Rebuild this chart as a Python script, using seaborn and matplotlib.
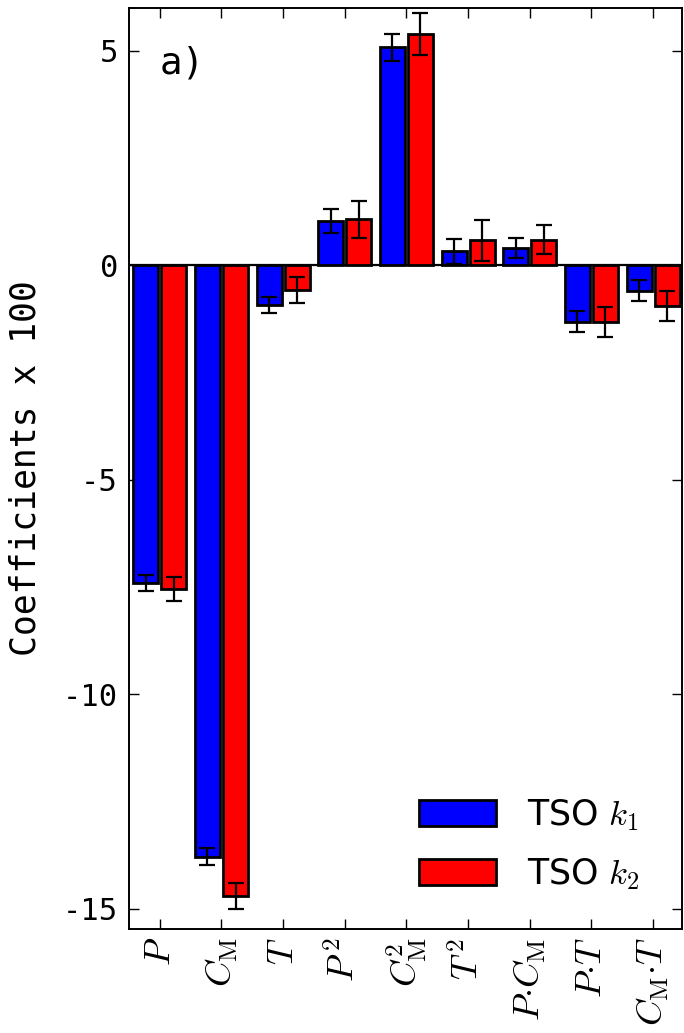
import matplotlib
matplotlib.use("Agg")
import matplotlib.pyplot as plt
import seaborn as sns
import pandas as pd

# Regression terms (mathtext labels) and coefficients (x 100) with their errors
terms = [r"$P$", r"$C_{\rm M}$", r"$T$", r"$P^{\,2}$", r"$C_{\rm M}^{2}$",
         r"$T^{\,2}$", r"$P{\cdot}C_{\rm M}$", r"$P{\cdot}T$", r"$C_{\rm M}{\cdot}T$"]
series_names = [r"TSO $k_1$", r"TSO $k_2$"]
k1_values = [-7.41, -13.79, -0.92, 1.03, 5.08, 0.33, 0.40, -1.31, -0.59]
k1_errors = [0.19, 0.20, 0.19, 0.28, 0.32, 0.29, 0.23, 0.25, 0.24]
k2_values = [-7.55, -14.70, -0.58, 1.07, 5.39, 0.58, 0.60, -1.32, -0.94]
k2_errors = [0.28, 0.30, 0.30, 0.43, 0.49, 0.47, 0.33, 0.35, 0.35]
y_ticks = [5, 0, -5, -10, -15]
bar_colors = ["#0000ff", "#ff0000"]

sns.set_style("ticks")
plt.rcParams.update({
    "font.family": ["DejaVu Sans Mono", "DejaVu Sans"],
    "mathtext.fontset": "cm",
    "axes.unicode_minus": False,
    "axes.linewidth": 1.4,
    "axes.edgecolor": "black",
    "axes.labelcolor": "black",
    "text.color": "black",
    "xtick.direction": "in",
    "ytick.direction": "in",
    "xtick.major.size": 7.5,
    "ytick.major.size": 7.5,
    "xtick.major.width": 1.0,
    "ytick.major.width": 1.0,
    "xtick.top": True,
    "ytick.right": True,
    "xtick.color": "black",
    "ytick.color": "black",
    "xtick.labelcolor": "black",
    "ytick.labelcolor": "black",
})

df = pd.DataFrame({
    "term": terms * 2,
    "value": k1_values + k2_values,
    "series": [series_names[0]] * len(terms) + [series_names[1]] * len(terms),
})

fig = plt.figure(figsize=(6.84, 10.33), dpi=100)
ax = fig.add_axes([0.1886, 0.1007, 0.8085, 0.8916])

sns.barplot(data=df, x="term", y="value", hue="series", order=terms,
            hue_order=series_names, palette=bar_colors, width=0.91, gap=0.108,
            edgecolor="black", linewidth=2.0, errorbar=None, saturation=1,
            ax=ax, zorder=2)

# error bars placed at the centre of each drawn bar
for container, vals, errs in zip(ax.containers, [k1_values, k2_values],
                                 [k1_errors, k2_errors]):
    xs = [p.get_x() + p.get_width() / 2 for p in container]
    ax.errorbar(xs, vals, yerr=errs, fmt="none", ecolor="black",
                elinewidth=1.6, capsize=5.5, capthick=1.6, zorder=3)

ax.axhline(0, color="black", linewidth=1.6, zorder=1)

ax.set_xlim(-0.5, 8.47)
ax.set_ylim(-15.47, 6.0)
ax.set_yticks(y_ticks)
ax.set_yticklabels([str(t) for t in y_ticks], fontsize=22,
                   family="DejaVu Sans Mono")
ax.tick_params(axis="y", pad=8)
ax.tick_params(axis="x", pad=6, labelsize=26, labelrotation=90)
ax.set_xlabel("")
ax.set_ylabel("Coefficients x 100", fontsize=25, family="DejaVu Sans Mono")
ax.yaxis.set_label_coords(-0.157, 0.5)

ax.text(0.056, 0.929, "a)", transform=ax.transAxes, fontsize=27,
        family="DejaVu Sans Mono", va="baseline", ha="left")

handles, labels = ax.get_legend_handles_labels()
ax.legend(handles, labels, loc="lower right", bbox_to_anchor=(0.924, 0.040),
          borderaxespad=0, borderpad=0,
          frameon=False, prop={"family": "DejaVu Sans", "size": 25},
          handlelength=2.22, handleheight=0.78, handletextpad=0.9,
          labelspacing=0.66)

fig.savefig("out.png", dpi=100)
